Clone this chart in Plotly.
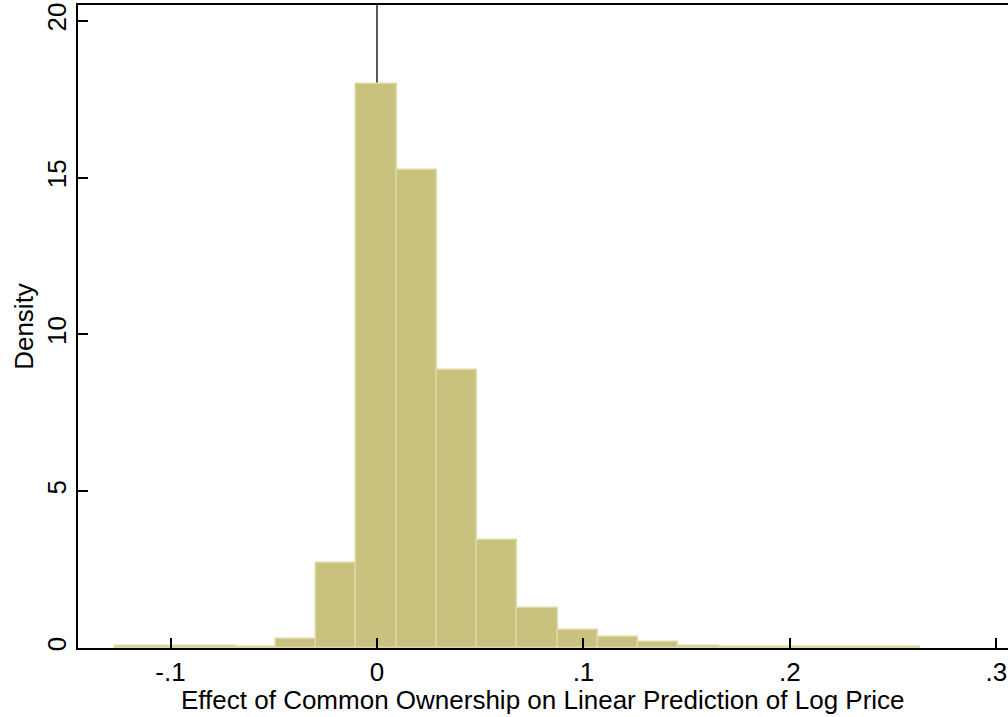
import numpy as np
import plotly.graph_objects as go

# Histogram data (density), 20 equal-width bins
bin_start = -0.127
bin_width = 0.0195
density = [0.05, 0.05, 0.05, 0.02, 0.29, 2.71, 17.98, 15.25, 8.87, 3.44,
           1.28, 0.57, 0.35, 0.19, 0.06, 0.04, 0.04, 0.04, 0.04, 0.04]
x_tickvals = [-0.1, 0, 0.1, 0.2, 0.3]
x_ticktext = ["-.1", "0", ".1", ".2", ".3"]
y_tickvals = [0, 5, 10, 15, 20]
y_ticktext = ["0", "5", "10", "15", "20"]
x_title = "Effect of Common Ownership on Linear Prediction of Log Price"
y_title = "Density"

centers = bin_start + bin_width * (np.arange(len(density)) + 0.5)

font = dict(family="Liberation Sans, Arial, Helvetica, sans-serif", size=26, color="black")

fig = go.Figure()
fig.add_trace(go.Bar(
    x=centers, y=density, width=bin_width,
    marker=dict(color="#C9C27E", line=dict(color="#DDD8A4", width=1.5)),
    hoverinfo="x+y", showlegend=False,
))

fig.add_shape(type="line", xref="x", yref="paper", x0=0, x1=0, y0=0, y1=1,
              line=dict(color="black", width=1.3), layer="below")

fig.add_annotation(text=x_title, xref="paper", yref="paper", x=0.5, y=-0.0805,
                   xanchor="center", yanchor="middle", showarrow=False, font=font)

fig.update_layout(
    width=1008, height=717,
    margin=dict(l=78, r=0, t=5, b=69),
    paper_bgcolor="white", plot_bgcolor="white",
    font=font, bargap=0,
    xaxis=dict(
        range=[-0.1448, 0.3056], tickvals=x_tickvals, ticktext=x_ticktext,
        ticks="inside", ticklen=10, tickwidth=1.5, tickcolor="black",
        showline=True, linecolor="black", linewidth=2, mirror=True,
        showgrid=False, zeroline=False, tickfont=font,
        automargin=False,
    ),
    yaxis=dict(
        range=[0, 20.51], tickvals=y_tickvals, ticktext=y_ticktext,
        ticks="inside", ticklen=10, tickwidth=1.5, tickcolor="black",
        showline=True, linecolor="black", linewidth=2,
        showgrid=False, zeroline=False, tickfont=font, tickangle=-90,
        title=dict(text=y_title, font=font, standoff=0),
        automargin=False,
    ),
)

fig.write_html("out.html", config={"displayModeBar": False},
               post_script="document.body.style.margin='0';document.body.style.overflow='hidden';")
